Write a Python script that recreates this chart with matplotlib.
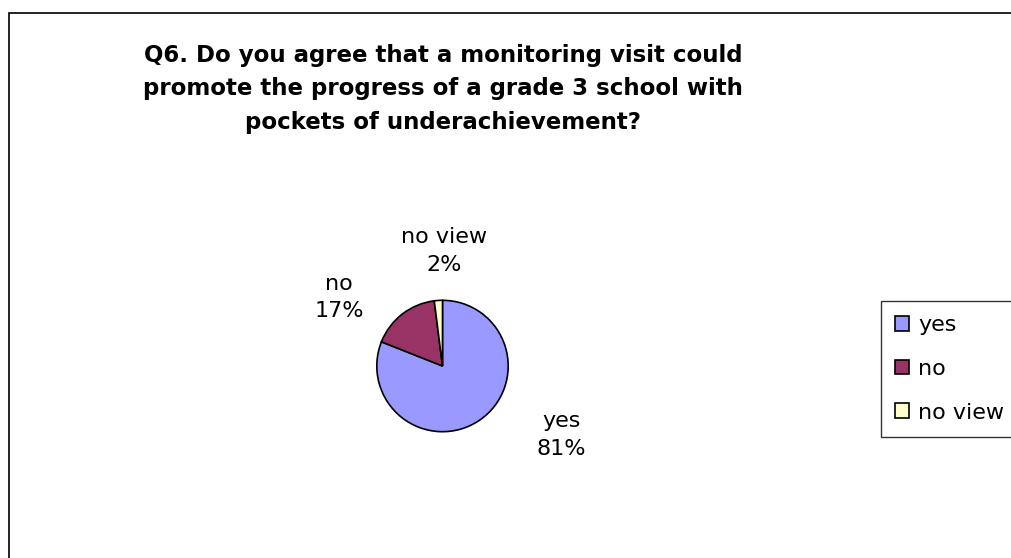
import matplotlib
matplotlib.use('Agg')
import matplotlib.pyplot as plt
from matplotlib.patches import Rectangle

# survey answers
categorias = ['yes', 'no', 'no view']
porcentajes = [81, 17, 2]
colores = ['#9999FF', '#993366', '#FFFFCC']
titulo = ('Q6. Do you agree that a monitoring visit could\n'
          'promote the progress of a grade 3 school with\n'
          'pockets of underachievement?')

# where each data label sits, in pie radius units
pos_etiquetas = [(1.81, -1.05), (-1.57, 1.04), (0.02, 1.75)]

W, H = 1012, 558
fig = plt.figure(figsize=(W / 100, H / 100), dpi=100)
fig.patch.set_facecolor('white')

# chart area border (runs off the right and bottom edges)
fig.add_artist(Rectangle((9.5 / W, -0.1), 1.2, 1 - 13.5 / H + 0.1,
                         transform=fig.transFigure, fill=False,
                         edgecolor='black', linewidth=1.2))

fig.text(443 / W, 1 - 89 / H, titulo, ha='center', va='center',
         fontsize=16.5, fontweight='bold', linespacing=1.6,
         family='DejaVu Sans')

# pie
cx, cy, r = 442.5, 366, 67
ax = fig.add_axes([(cx - r) / W, (H - cy - r) / H, 2 * r / W, 2 * r / H])
wedges, _ = ax.pie(porcentajes, colors=colores, startangle=90,
                   counterclock=False,
                   wedgeprops=dict(edgecolor='black', linewidth=1.2))
ax.set_xlim(-1.02, 1.02)
ax.set_ylim(-1.02, 1.02)
ax.set_aspect('equal')
ax.axis('off')

for cat, val, (x, y) in zip(categorias, porcentajes, pos_etiquetas):
    ax.text(x, y, f'{cat}\n{val}%', ha='center', va='center',
            fontsize=16, linespacing=1.45, clip_on=False)

leg = fig.legend(wedges, categorias, loc='upper left',
                 bbox_to_anchor=(881 / W, 1 - 301 / H),
                 fontsize=16, frameon=True, fancybox=False,
                 handlelength=0.63, handleheight=0.63, handletextpad=0.4,
                 labelspacing=1.06, borderpad=0.65, borderaxespad=0)
leg.get_frame().set_edgecolor('black')
leg.get_frame().set_linewidth(1.0)

plt.savefig('out.png', dpi=100)
